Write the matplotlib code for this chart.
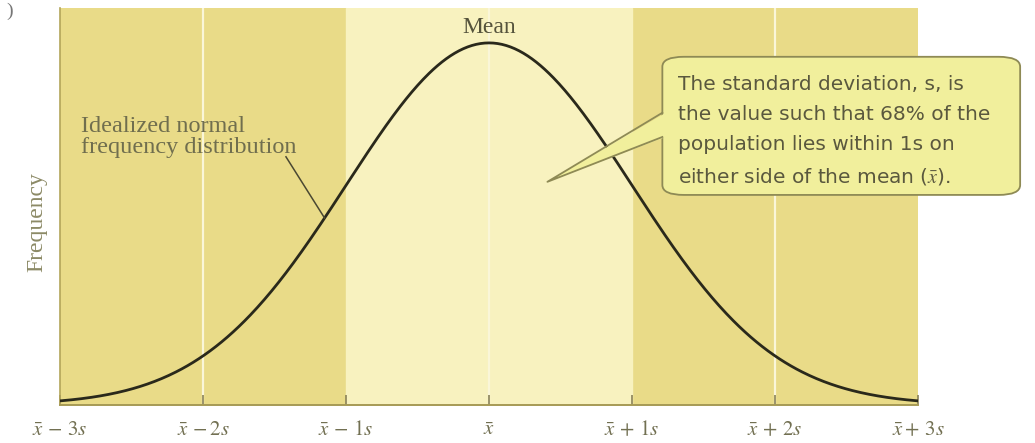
import numpy as np
import matplotlib.pyplot as plt
from matplotlib.patches import FancyBboxPatch, Polygon

# distribution in units of s around the mean
x = np.linspace(-3, 3, 601)
freq = np.exp(-x ** 2 / 2) / np.sqrt(2 * np.pi)

tick_pos = [-3, -2, -1, 0, 1, 2, 3]
tick_labels = [r'$\bar{x}\,-\,3s$', r'$\bar{x}\,-2s$', r'$\bar{x}\,-\,1s$', r'$\bar{x}$',
               r'$\bar{x}\,+\,1s$', r'$\bar{x}\,+\,2s$', r'$\bar{x}+\,3s$']
box_text = ("The standard deviation, s, is\n"
            "the value such that 68% of the\n"
            "population lies within 1s on\n"
            "either side of the mean (" + r'$\bar{x}$' + ").")

outer_col = '#e9db88'
inner_col = '#f8f2bf'
ink = '#727052'

plt.rcParams['mathtext.fontset'] = 'stix'

fig = plt.figure(figsize=(10.35, 4.43), dpi=100)
ax = fig.add_axes([0.058, 0.086, 0.829, 0.896])
ymax = freq.max() / 0.912
ax.set_xlim(-3, 3)
ax.set_ylim(0, ymax)

ax.set_facecolor(outer_col)
ax.axvspan(-1, 1, color=inner_col, zorder=0.5)
for v in [-2, 0, 2]:
    ax.axvline(v, color='#faf6d8', lw=1.6, zorder=0.6)

ax.plot(x, freq, color='#2a291b', lw=2.0, zorder=3)

for side in ['top', 'right']:
    ax.spines[side].set_visible(False)
ax.spines['left'].set_color('#b3a55a')
ax.spines['bottom'].set_color('#a69a55')
ax.spines['left'].set_linewidth(1.2)
ax.spines['bottom'].set_linewidth(1.4)

ax.set_xticks(tick_pos)
ax.set_xticklabels(tick_labels, fontsize=15, color=ink)
ax.tick_params(axis='x', direction='in', length=7, width=1.2, color='#8a8258', pad=10)
ax.set_yticks([])
ax.text(-0.027, 0.46, 'Frequency', transform=ax.transAxes, rotation=90, ha='center',
        va='center', family='Liberation Serif', fontsize=17, color='#8c8a66')

ax.text(0, ymax * 0.925, 'Mean', ha='center', va='bottom', family='Liberation Serif',
        fontsize=17, color='#55533c')

# label for the curve with its leader line
ax.text(-2.85, ymax * 0.675, 'Idealized normal\nfrequency distribution', ha='left', va='center',
        family='Liberation Serif', fontsize=17.5, color='#706e4e', linespacing=1.0)
xe = -1.15
ye = np.exp(-xe ** 2 / 2) / np.sqrt(2 * np.pi)
ax.plot([-1.42, xe], [ymax * 0.625, ye], color='#4a4832', lw=1.1, zorder=3)

# callout box with pointer
tr = ax.transAxes
box = FancyBboxPatch((0.702, 0.529), 0.417, 0.348, boxstyle='round,pad=0,rounding_size=0.025',
                     transform=tr, facecolor='#f1ef9c', edgecolor='#8e8a55', lw=1.3,
                     clip_on=False, zorder=5)
ax.add_patch(box)
tip = (0.568, 0.562)
b1 = (0.706, 0.736)
b2 = (0.706, 0.675)
ax.add_patch(Polygon([b1, tip, b2], closed=True, transform=tr, facecolor='#f1ef9c',
                     edgecolor='none', clip_on=False, zorder=6))
ax.plot([b1[0] - 0.004, tip[0], b2[0] - 0.004], [b1[1], tip[1], b2[1]], transform=tr,
        color='#8e8a55', lw=1.3, clip_on=False, zorder=6)
ax.text(0.720, 0.69, box_text, transform=tr, ha='left', va='center', family='DejaVu Sans',
        fontsize=14.5, color='#5a583e', linespacing=1.72, zorder=7)

fig.text(0.006, 0.965, ')', family='Liberation Serif', fontsize=14, color='#777777')

fig.savefig('out.png', dpi=100)
